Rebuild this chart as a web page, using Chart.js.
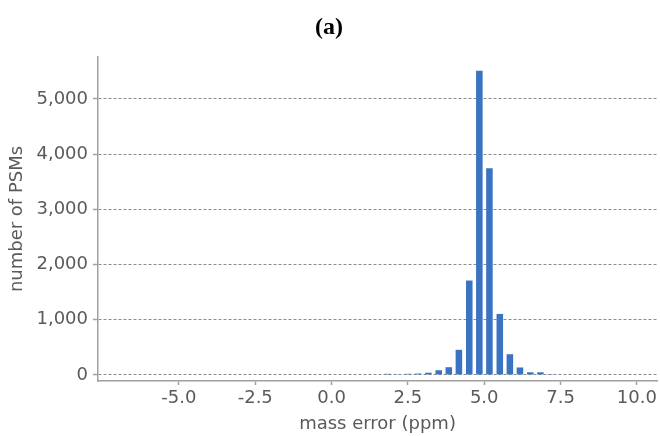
<!DOCTYPE html>
<html><head><meta charset="utf-8">
<script src="https://cdn.jsdelivr.net/npm/chart.js@4.4.0/dist/chart.umd.min.js"></script>
<style>html,body{margin:0;padding:0;background:#fff;}#wrap{width:660px;height:436px;}</style>
</head><body><div id="wrap"><canvas id="c" width="660" height="436"></canvas></div>
<script>
const binCenters = [1.84, 2.17, 2.51, 2.84, 3.17, 3.51, 3.84, 4.17, 4.51, 4.84, 5.17, 5.51, 5.84, 6.17, 6.51, 6.84, 7.17];
const psmCounts = [20, 5, 20, 25, 40, 85, 140, 455, 1710, 5510, 3745, 1105, 375, 135, 48, 48, 15];
const xTickValues = [-5, -2.5, 0, 2.5, 5, 7.5, 10];
const yTickValues = [0, 1000, 2000, 3000, 4000, 5000];
const chartTitle = '(a)';
const xAxisTitle = 'mass error (ppm)';
const yAxisTitle = 'number of PSMs';

const textColor = '#5a5a5a';
const axisColor = '#a0a0a0';
const sans = 'DejaVu Sans, Verdana, sans-serif';

new Chart(document.getElementById('c'), {
  type: 'bar',
  data: {
    datasets: [{
      data: binCenters.map((x, i) => ({x: x, y: psmCounts[i]})),
      backgroundColor: '#3a73c1',
      borderWidth: 0,
      barPercentage: 0.65,
      categoryPercentage: 1.0
    }]
  },
  options: {
    responsive: false,
    animation: false,
    devicePixelRatio: 1,
    layout: {padding: {left: 0, right: 2, top: 0, bottom: 0}},
    plugins: {
      legend: {display: false},
      tooltip: {enabled: false},
      title: {
        display: true,
        text: chartTitle,
        color: '#000',
        font: {family: 'Liberation Serif, Times New Roman, serif', size: 24, weight: 'bold'},
        padding: {top: 13, bottom: 15.2}
      }
    },
    scales: {
      x: {
        type: 'linear',
        min: -7.65,
        max: 10.66,
        offset: false,
        afterBuildTicks: s => { s.ticks = xTickValues.map(v => ({value: v})); },
        afterFit: s => { s.height = 55; },
        ticks: {
          callback: v => Number(v).toFixed(1),
          color: textColor,
          font: {family: sans, size: 18},
          padding: 3,
          maxRotation: 0,
          autoSkip: false
        },
        grid: {display: true, offset: false, drawOnChartArea: false, drawTicks: true, tickLength: 4, tickColor: axisColor, tickWidth: 1.5},
        border: {display: true, color: axisColor, width: 1.5},
        title: {display: true, text: xAxisTitle, color: textColor, font: {family: sans, size: 18}, padding: {top: 0, bottom: 1}}
      },
      y: {
        type: 'linear',
        min: -110,
        max: 5760,
        afterBuildTicks: s => { s.ticks = yTickValues.map(v => ({value: v})); },
        afterFit: s => { s.width = 98; },
        ticks: {
          callback: v => Number(v).toLocaleString('en-US'),
          color: textColor,
          font: {family: sans, size: 18},
          padding: 5
        },
        grid: {display: true, color: '#8c8c8c', lineWidth: 1, drawTicks: true, tickLength: 5, tickColor: axisColor, tickWidth: 1.5},
        border: {display: true, color: axisColor, width: 1.5, dash: [3, 2]},
        title: {display: true, text: yAxisTitle, color: textColor, font: {family: sans, size: 18}, padding: {top: 7, bottom: 0}}
      }
    }
  }
});
</script>
</body></html>
